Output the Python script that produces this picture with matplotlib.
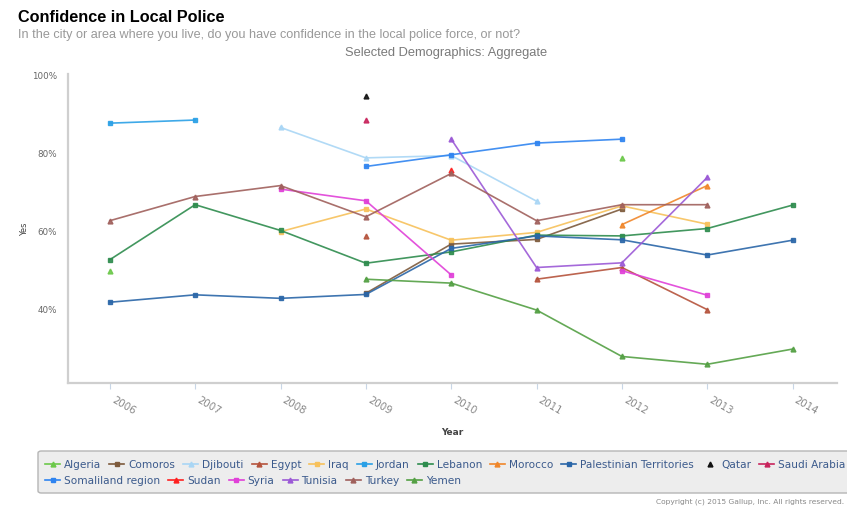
import matplotlib
matplotlib.use("Agg")
import matplotlib.pyplot as plt
import numpy as np
from matplotlib.lines import Line2D
from matplotlib.patches import FancyBboxPatch

nan = np.nan

years = [2006, 2007, 2008, 2009, 2010, 2011, 2012, 2013, 2014]

algeria = [49.4, nan, nan, nan, nan, nan, 78.4, nan, nan]
comoros = [nan, nan, nan, 43.8, 56.4, 57.6, 65.4, nan, nan]
djibouti = [nan, nan, 86.3, 78.5, 79.1, 67.4, nan, nan, nan]
egypt = [nan, nan, nan, 58.4, nan, 47.4, 50.4, 39.6, nan]
iraq = [nan, nan, 59.6, 65.4, 57.4, 59.4, 66.2, 61.5, nan]
jordan = [87.4, 88.2, nan, nan, nan, nan, nan, nan, nan]
lebanon = [52.4, 66.5, 59.9, 51.5, 54.4, 58.7, 58.5, 60.4, 66.4]
morocco = [nan, nan, nan, nan, nan, nan, 61.4, 71.4, nan]
palestine = [41.5, 43.4, 42.5, 43.5, 55.3, 58.5, 57.5, 53.6, 57.4]
qatar = [nan, nan, nan, 94.4, nan, nan, nan, nan, nan]
saudi = [nan, nan, nan, 88.3, nan, nan, nan, nan, nan]
somaliland = [nan, nan, nan, 76.3, 79.3, 82.3, 83.3, nan, nan]
sudan = [nan, nan, nan, nan, 75.4, nan, nan, nan, nan]
syria = [nan, nan, 70.5, 67.5, 48.5, nan, 49.6, 43.3, nan]
tunisia = [nan, nan, nan, nan, 83.3, 50.4, 51.6, 73.5, nan]
turkey = [62.4, 68.6, 71.4, 63.4, 74.5, 62.4, 66.5, 66.5, nan]
yemen = [nan, nan, nan, 47.4, 46.4, 39.5, 27.6, 25.6, 29.5]

series = [
    ("Algeria", algeria, "#6cc84a", "^"),
    ("Comoros", comoros, "#7d5a3c", "s"),
    ("Djibouti", djibouti, "#a9d6f5", "^"),
    ("Egypt", egypt, "#b5533c", "^"),
    ("Iraq", iraq, "#f7c15b", "s"),
    ("Jordan", jordan, "#2aa0e6", "s"),
    ("Lebanon", lebanon, "#2e8c4e", "s"),
    ("Morocco", morocco, "#f0862a", "^"),
    ("Palestinian Territories", palestine, "#2a66a8", "s"),
    ("Qatar", qatar, "#111111", "^"),
    ("Saudi Arabia", saudi, "#c8245c", "^"),
    ("Somaliland region", somaliland, "#2f84f0", "s"),
    ("Sudan", sudan, "#ff2020", "^"),
    ("Syria", syria, "#e040d8", "s"),
    ("Tunisia", tunisia, "#9b59d6", "^"),
    ("Turkey", turkey, "#a0605c", "^"),
    ("Yemen", yemen, "#54a044", "^"),
]

W, H = 847, 510
fig = plt.figure(figsize=(W / 100, H / 100), dpi=100)
fig.patch.set_facecolor("white")


def px(x, y):
    # пиксели картинки (от левого верхнего угла) -> доли фигуры
    return x / W, 1 - y / H


ax = fig.add_axes([68 / W, 1 - 384 / H, (837 - 68) / W, (384 - 75) / H])

for name, vals, col, mk in series:
    ax.plot(years, vals, color=col, lw=1.2, marker=mk, ms=3.5, alpha=0.9)

ax.set_xlim(2005.51, 2014.52)
ax.set_ylim(20.8, 100)
ax.set_yticks([40, 60, 80, 100])
ax.set_yticklabels(["40%", "60%", "80%", "100%"], fontsize=6.3, color="#666666")
ax.set_xticks(years)
ax.set_xticklabels([str(y) for y in years], rotation=-30, ha="left",
                   va="top", fontsize=7.3, color="#888888")
ax.tick_params(axis="y", length=0, pad=8)
ax.tick_params(axis="x", length=4, color="#c8d6e6", pad=4)
for s in ["top", "right"]:
    ax.spines[s].set_visible(False)
for s in ["left", "bottom"]:
    ax.spines[s].set_color("#cfcfcf")
    ax.spines[s].set_linewidth(1.6)

ax.set_ylabel("Yes", fontsize=6, color="#444444", labelpad=2)
fig.text(*px(452, 433), "Year", fontsize=6.5, fontweight="bold",
         color="#444444", ha="center", va="center")

# заголовки
fig.text(*px(18, 17), "Confidence in Local Police", fontsize=11.7,
         fontweight="bold", family="Liberation Sans", va="center")
fig.text(*px(18, 35),
         "In the city or area where you live, do you have confidence in the local police force, or not?",
         fontsize=9.1, color="#999999", family="Liberation Sans", va="center")
fig.text(*px(547, 53), "Selected Demographics: Aggregate", fontsize=9.3,
         color="#7a7a7a", family="Liberation Sans", ha="right", va="center")

# легенда
box = FancyBboxPatch(px(38, 494), 860 / W, 42 / H,
                     boxstyle="round,pad=0,rounding_size=0.004",
                     transform=fig.transFigure, facecolor="#ededed",
                     edgecolor="#b5b5b5", lw=1.0)
fig.add_artist(box)

renderer = fig.canvas.get_renderer()
rows = [series[:11], series[11:]]
row_y = [465, 481]
for row, yy in zip(rows, row_y):
    x = 45
    for name, vals, col, mk in row:
        if name != "Qatar":
            fig.add_artist(Line2D([x / W, (x + 15) / W], [1 - yy / H] * 2,
                                  transform=fig.transFigure, color=col, lw=1.2))
        fig.add_artist(Line2D([(x + 7.5) / W], [1 - yy / H],
                              transform=fig.transFigure, color=col,
                              marker=mk, ms=3.5, lw=0))
        t = fig.text((x + 19) / W, 1 - yy / H, name, fontsize=7.6,
                     color="#3b5a8c", va="center")
        w = t.get_window_extent(renderer).width
        x = x + 19 + w + 8

fig.text(*px(844, 502), "Copyright (c) 2015 Gallup, Inc. All rights reserved.",
         fontsize=5.4, color="#888888", ha="right", va="center")

fig.savefig("out.png", dpi=100)
